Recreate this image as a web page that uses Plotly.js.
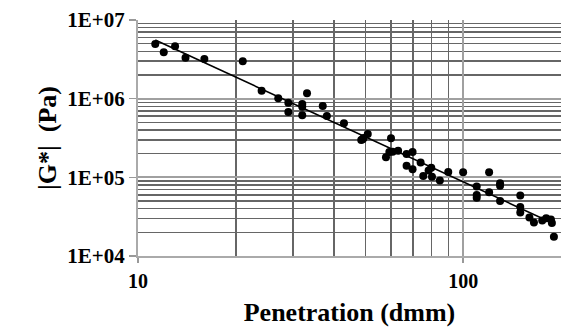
<!DOCTYPE html>
<html>
<head>
<meta charset="utf-8">
<script src="https://cdn.plot.ly/plotly-3.0.1.min.js"></script>
<style>html,body{margin:0;padding:0;background:#fff;}#chart{width:561px;height:327px;}</style>
</head>
<body>
<div id="chart"></div>
<script>
// Penetration (dmm)
const penetration = [11.3, 12.0, 13.0, 14.0, 16.0, 21.0, 24.0, 27.0, 29.0, 29.0, 32.0, 32.0, 33.1, 32.0, 37.0, 38.1, 43.0,
  49.1, 48.6, 49.4, 50.9, 60.0, 57.9, 59.3, 60.7, 63.1, 67.0, 69.9, 67.0, 69.9, 74.0, 75.4, 78.3, 79.8, 80.2, 84.8, 90.0,
  100.0, 120.2, 110.1, 110.1, 110.1, 120.2, 129.9, 129.9, 129.9, 149.9, 149.9, 149.9, 159.9, 165.1, 175.1, 180.1, 186.2, 187.5, 190.2];
// |G*| (Pa)
const gStar = [4.95e6, 3.89e6, 4.63e6, 3.32e6, 3.19e6, 2.99e6, 1.26e6, 1.01e6, 8.9e5, 6.78e5, 8.56e5, 7.91e5, 1.17e6, 6.15e5, 8.08e5, 6.03e5, 4.87e5,
  3.05e5, 2.99e5, 3.17e5, 3.56e5, 3.14e5, 1.80e5, 2.10e5, 2.12e5, 2.18e5, 1.98e5, 2.10e5, 1.40e5, 1.27e5, 1.54e5, 1.04e5, 1.22e5, 1.32e5, 1.02e5, 9.09e4, 1.17e5,
  1.16e5, 1.16e5, 7.62e4, 5.98e4, 5.52e4, 6.47e4, 8.41e4, 7.84e4, 5.01e4, 5.86e4, 4.21e4, 3.58e4, 3.09e4, 2.67e4, 2.83e4, 3.02e4, 2.92e4, 2.63e4, 1.76e4];

const xTickVals = [10, 100];
const xTickText = ['10', '100'];
const xMinorVals = [20, 30, 40, 50, 60, 70, 80, 90, 200];
const yTickVals = [1e4, 1e5, 1e6, 1e7];
const yTickText = ['1E+04', '1E+05', '1E+06', '1E+07'];
const yMinorVals = [];
[1e4, 1e5, 1e6].forEach(d => { for (let k = 2; k <= 9; k++) yMinorVals.push(k * d); });

// Power trendline (least squares in log-log space), like a spreadsheet trendline
const lx = penetration.map(Math.log10), ly = gStar.map(Math.log10);
const n = lx.length;
const mx = lx.reduce((a, b) => a + b, 0) / n, my = ly.reduce((a, b) => a + b, 0) / n;
let sxy = 0, sxx = 0;
for (let i = 0; i < n; i++) { sxy += (lx[i] - mx) * (ly[i] - my); sxx += (lx[i] - mx) ** 2; }
const slope = sxy / sxx, intercept = my - slope * mx;
const fitX = [Math.min(...penetration), Math.max(...penetration)];
const fitY = fitX.map(x => Math.pow(10, intercept + slope * Math.log10(x)));

const serif = 'Liberation Serif';
const bold = arr => arr.map(s => '<b>' + s + '</b>');

const data = [
  {x: penetration, y: gStar, type: 'scatter', mode: 'markers',
   marker: {color: '#000', size: 8, symbol: 'circle'}, showlegend: false, hoverinfo: 'skip'},
  {x: fitX, y: fitY, type: 'scatter', mode: 'lines',
   line: {color: '#000', width: 1.6}, showlegend: false, hoverinfo: 'skip'}
];

const layout = {
  width: 561, height: 327,
  margin: {l: 138, r: 0, t: 20, b: 71},
  paper_bgcolor: '#fff', plot_bgcolor: '#fff',
  showlegend: false,
  xaxis: {
    type: 'log', range: [1, Math.log10(200)],
    tickmode: 'array', tickvals: xTickVals, ticktext: bold(xTickText),
    ticks: 'outside', ticklen: 5, tickcolor: '#999', tickwidth: 1.5,
    ticklabelstandoff: 1,
    showline: true, linecolor: '#aaa', linewidth: 2,
    showgrid: true, gridcolor: '#a0a0a0', gridwidth: 2,
    minor: {tickmode: 'array', tickvals: xMinorVals, showgrid: true, gridcolor: '#666', gridwidth: 1.5, ticks: ''},
    tickfont: {family: serif, size: 20, color: '#000'},
    title: {text: '<b>Penetration (dmm)</b>', font: {family: serif, size: 26, color: '#000'}, standoff: 26},
    zeroline: false
  },
  yaxis: {
    type: 'log', range: [4, 7],
    tickmode: 'array', tickvals: yTickVals, ticktext: bold(yTickText),
    ticks: 'outside', ticklen: 7, tickcolor: '#999', tickwidth: 1.5,
    showline: true, linecolor: '#aaa', linewidth: 2,
    showgrid: true, gridcolor: '#a0a0a0', gridwidth: 2,
    minor: {tickmode: 'array', tickvals: yMinorVals, showgrid: true, gridcolor: '#666', gridwidth: 1.5, ticks: ''},
    tickfont: {family: serif, size: 21, color: '#000'},
    title: {text: '<b>|G*|  (Pa)</b>', font: {family: serif, size: 26, color: '#000'}, standoff: 3},
    zeroline: false
  }
};

Plotly.newPlot('chart', data, layout, {displayModeBar: false, staticPlot: true});
</script>
</body>
</html>
